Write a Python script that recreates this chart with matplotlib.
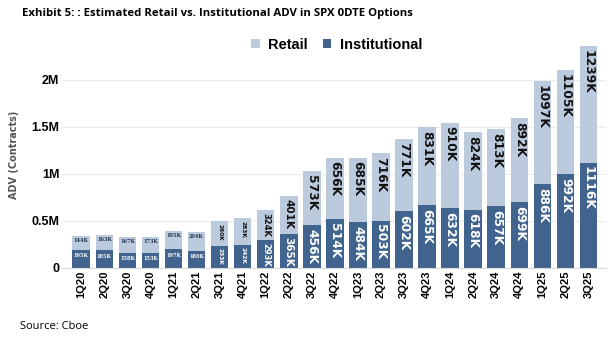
import matplotlib
matplotlib.use('Agg')
import matplotlib.pyplot as plt
import numpy as np

quarters = ['1Q20', '2Q20', '3Q20', '4Q20', '1Q21', '2Q21', '3Q21', '4Q21',
            '1Q22', '2Q22', '3Q22', '4Q22', '1Q23', '2Q23', '3Q23', '4Q23',
            '1Q24', '2Q24', '3Q24', '4Q24', '1Q25', '2Q25', '3Q25']
institutional_k = [195, 185, 158, 153, 197, 180, 233, 242, 293, 365, 456, 514,
                   484, 503, 602, 665, 632, 618, 657, 699, 886, 992, 1116]
retail_k = [144, 163, 167, 173, 195, 204, 260, 283, 324, 401, 573, 656,
            685, 716, 771, 831, 910, 824, 813, 892, 1097, 1105, 1239]

inst = np.array(institutional_k) * 1000
ret = np.array(retail_k) * 1000
x = np.arange(len(quarters))

c_retail = '#bccadd'
c_inst = '#41648e'
arial = 'Liberation Sans'

fig = plt.figure(figsize=(6.15, 3.43), dpi=100)
ax = fig.add_axes([0.101, 0.219, 0.884, 0.659])

ax.bar(x, ret, 0.76, bottom=inst, color=c_retail, label='Retail', zorder=2)
ax.bar(x, inst, 0.76, color=c_inst, label='Institutional', zorder=2)

# value labels
for i in x:
    if i < 6:
        # small horizontal labels on the early bars
        ax.text(i, inst[i] * 0.82, f'{institutional_k[i]}K', ha='center', va='top',
                fontsize=3.6, color='white', fontweight='bold', family='serif')
        ax.text(i, inst[i] + ret[i] * 0.88, f'{retail_k[i]}K', ha='center', va='top',
                fontsize=3.6, color='#1f3350', fontweight='bold', family='serif')
    else:
        if i < 8:
            fs = 4.2
        elif i < 9:
            fs = 6
        elif i < 10:
            fs = 7.5
        else:
            fs = 8.8
        pad = 12000 + fs * 3000
        ax.text(i, inst[i] - pad, f'{institutional_k[i]}K', ha='center', va='top',
                rotation=270, fontsize=fs, color='white', fontweight='bold')
        ax.text(i, inst[i] + ret[i] - pad, f'{retail_k[i]}K', ha='center', va='top',
                rotation=270, fontsize=fs, color='#111111', fontweight='bold')

ax.set_ylim(0, 2.4e6)
ax.set_xlim(-0.83, 22.75)
ax.set_yticks([0, 0.5e6, 1e6, 1.5e6, 2e6])
ax.set_yticklabels(['0', '0.5M', '1M', '1.5M', '2M'], fontsize=9, fontweight='bold',
                   family=arial)
ax.set_xticks(x)
ax.set_xticklabels(quarters, rotation=90, fontsize=8, fontweight='bold', family=arial)
ax.tick_params(length=0, pad=2)
ax.grid(axis='y', color='#ececec', linewidth=0.8, zorder=0)
for s in ['top', 'right', 'left']:
    ax.spines[s].set_visible(False)
ax.spines['bottom'].set_color('#d9d9d9')
ax.set_ylabel('ADV (Contracts)', fontsize=7, fontweight='bold', color='#555555',
              labelpad=9)

ax.legend(loc='center', bbox_to_anchor=(0.505, 0.987), ncol=2, frameon=False,
          prop={'family': arial, 'size': 10.5, 'weight': 'bold'}, handlelength=0.6,
          handleheight=0.6, columnspacing=1.0, handletextpad=0.6)

fig.text(0.035, 0.962, 'Exhibit 5: : Estimated Retail vs. Institutional ADV in SPX 0DTE Options',
         fontsize=8.2, fontweight='bold', va='center', family='Open Sans')
fig.text(0.032, 0.047, 'Source: Cboe', fontsize=8, va='center', family='Open Sans')

fig.savefig('out.png', dpi=100)
